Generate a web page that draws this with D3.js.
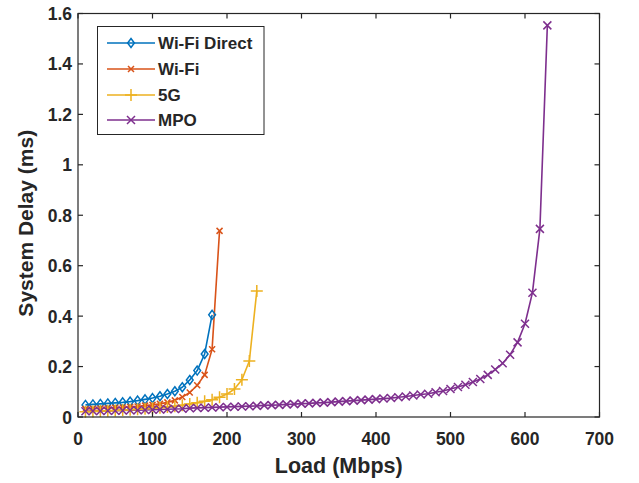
<!DOCTYPE html>
<html>
<head>
<meta charset="utf-8">
<script src="https://cdn.jsdelivr.net/npm/d3@7"></script>
<style>
  html, body { margin: 0; padding: 0; background: #fff; }
  svg { display: block; }
  text { font-family: "Liberation Sans", Arial, sans-serif; font-weight: bold; fill: #262626; }
</style>
</head>
<body>
<svg id="chart" width="639" height="483"></svg>
<script>
// Load (Mbps) for each network
const loadWifiDirect = [10,20,30,40,50,60,70,80,90,100,110,120,130,140,150,160,170,180];
const loadWifi = [10,20,30,40,50,60,70,80,90,100,110,120,130,140,150,160,170,180,190];
const load5G = [10,20,30,40,50,60,70,80,90,100,110,120,130,140,150,160,170,180,190,200,210,220,230,240];
const loadMPO = [10,20,30,40,50,60,70,80,90,100,110,120,130,140,150,160,170,180,190,200,
  210,220,230,240,250,260,270,280,290,300,310,320,330,340,350,360,370,380,390,400,
  410,420,430,440,450,460,470,480,490,500,510,520,530,540,550,560,570,580,590,600,
  610,620,630];

// System delay (ms)
const delayWifiDirect = [0.048,0.050,0.052,0.054,0.056,0.058,0.061,0.065,0.070,0.075,
  0.082,0.091,0.102,0.118,0.147,0.184,0.250,0.405];
const delayWifi = [0.032,0.033,0.034,0.035,0.037,0.038,0.040,0.042,0.045,0.048,
  0.052,0.058,0.066,0.079,0.097,0.126,0.167,0.269,0.738];
const delay5G = [0.021,0.022,0.024,0.025,0.026,0.028,0.029,0.031,0.033,0.035,
  0.037,0.040,0.043,0.047,0.052,0.057,0.062,0.068,0.078,0.091,0.111,0.148,0.222,0.500];
const delayMPO = [0.023,0.024,0.024,0.025,0.025,0.026,0.027,0.027,0.028,0.029,
  0.030,0.031,0.032,0.033,0.035,0.036,0.037,0.038,0.039,0.040,
  0.041,0.042,0.043,0.044,0.046,0.047,0.048,0.050,0.051,0.053,
  0.054,0.056,0.057,0.059,0.061,0.063,0.065,0.067,0.069,0.071,
  0.073,0.075,0.078,0.081,0.085,0.089,0.092,0.098,0.103,0.111,
  0.119,0.128,0.139,0.151,0.167,0.188,0.213,0.247,0.296,0.370,
  0.493,0.746,1.553];

const seriesNames = ["Wi-Fi Direct", "Wi-Fi", "5G", "MPO"];
const seriesColors = ["#0072BD", "#D95319", "#EDB120", "#7E2F8E"];
const seriesMarkers = ["diamond", "x", "plus", "x"];

const xTicks = [0,100,200,300,400,500,600,700];
const yTicks = [0,0.2,0.4,0.6,0.8,1,1.2,1.4,1.6];

const series = [
  {name: seriesNames[0], color: seriesColors[0], marker: seriesMarkers[0], xs: loadWifiDirect, ys: delayWifiDirect, size: 4.5},
  {name: seriesNames[1], color: seriesColors[1], marker: seriesMarkers[1], xs: loadWifi, ys: delayWifi, size: 3},
  {name: seriesNames[2], color: seriesColors[2], marker: seriesMarkers[2], xs: load5G, ys: delay5G, size: 6},
  {name: seriesNames[3], color: seriesColors[3], marker: seriesMarkers[3], xs: loadMPO, ys: delayMPO, size: 4}
];

const svg = d3.select("#chart");
const m = {left: 78, right: 599.5, top: 13.5, bottom: 417};
const x = d3.scaleLinear().domain([0, 700]).range([m.left, m.right]);
const y = d3.scaleLinear().domain([0, 1.6]).range([m.bottom, m.top]);
const axisColor = "#262626";

// Lines
const line = d3.line().x(d => x(d[0])).y(d => y(d[1]));
const plot = svg.append("g");
series.forEach(s => {
  const pts = s.xs.map((v, i) => [v, s.ys[i]]);
  plot.append("path").datum(pts)
    .attr("d", line)
    .attr("fill", "none")
    .attr("stroke", s.color)
    .attr("stroke-width", 1.6)
    .attr("stroke-linejoin", "round");
});

function markerPath(type, r) {
  if (type === "diamond") return `M0,${-r}L${r*0.75},0L0,${r}L${-r*0.75},0Z`;
  if (type === "plus") return `M${-r},0L${r},0M0,${-r}L0,${r}`;
  return `M${-r},${-r}L${r},${r}M${-r},${r}L${r},${-r}`;
}

// Markers
series.forEach(s => {
  const pts = s.xs.map((v, i) => [v, s.ys[i]]);
  plot.append("g").selectAll("path").data(pts).join("path")
    .attr("transform", d => `translate(${x(d[0])},${y(d[1])})`)
    .attr("d", markerPath(s.marker, s.size))
    .attr("fill", "none")
    .attr("stroke", s.color)
    .attr("stroke-width", 1.5);
});

// Axes box and ticks (inward, MATLAB style)
const axes = svg.append("g").attr("stroke", axisColor).attr("stroke-width", 1.2).attr("fill", "none");
axes.append("rect").attr("x", m.left).attr("y", m.top)
  .attr("width", m.right - m.left).attr("height", m.bottom - m.top);
const tl = 5;
xTicks.forEach(t => {
  axes.append("line").attr("x1", x(t)).attr("x2", x(t)).attr("y1", m.bottom).attr("y2", m.bottom - tl);
  axes.append("line").attr("x1", x(t)).attr("x2", x(t)).attr("y1", m.top).attr("y2", m.top + tl);
});
yTicks.forEach(t => {
  axes.append("line").attr("x1", m.left).attr("x2", m.left + tl).attr("y1", y(t)).attr("y2", y(t));
  axes.append("line").attr("x1", m.right).attr("x2", m.right - tl).attr("y1", y(t)).attr("y2", y(t));
});

// Tick labels
const fmt = d => (d === 0 ? "0" : d3.format("~g")(d));
svg.append("g").selectAll("text").data(xTicks).join("text")
  .attr("x", d => x(d)).attr("y", 445)
  .attr("text-anchor", "middle")
  .attr("font-size", 17.5)
  .text(d => d);
svg.append("g").selectAll("text").data(yTicks).join("text")
  .attr("x", 72).attr("y", d => y(d) + 6.5)
  .attr("text-anchor", "end")
  .attr("font-size", 17.5)
  .text(fmt);

// Axis titles
svg.append("text").attr("x", x(350)).attr("y", 473)
  .attr("text-anchor", "middle").attr("font-size", 21.5)
  .text("Load (Mbps)");
svg.append("text")
  .attr("transform", `translate(33,${(m.top + m.bottom) / 2 + 8}) rotate(-90)`)
  .attr("text-anchor", "middle").attr("font-size", 21)
  .text("System Delay (ms)");

// Legend
const lg = svg.append("g");
lg.append("rect").attr("x", 97.5).attr("y", 26.5).attr("width", 166.5).attr("height", 108)
  .attr("fill", "#fff").attr("stroke", axisColor).attr("stroke-width", 1);
const legendY = [43, 69, 95, 120];
series.forEach((s, i) => {
  const ly = legendY[i];
  lg.append("line").attr("x1", 107).attr("x2", 155).attr("y1", ly).attr("y2", ly)
    .attr("stroke", s.color).attr("stroke-width", 1.6);
  lg.append("path").attr("transform", `translate(131,${ly})`)
    .attr("d", markerPath(s.marker, s.size))
    .attr("fill", "none").attr("stroke", s.color).attr("stroke-width", 1.5);
  lg.append("text").attr("x", 158).attr("y", ly + 6)
    .attr("font-size", 17).text(s.name);
});
</script>
</body>
</html>
